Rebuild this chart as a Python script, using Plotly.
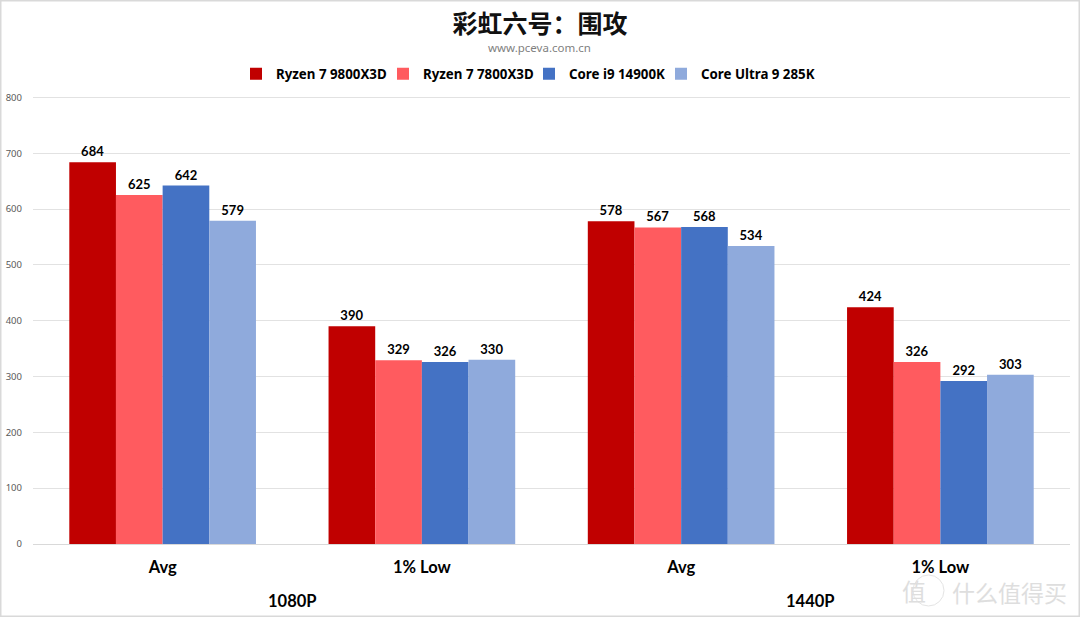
import plotly.graph_objects as go

resolutions = ["1080P", "1440P"]
metrics = ["Avg", "1% Low", "Avg", "1% Low"]
r7_9800x3d = [684, 390, 578, 424]
r7_7800x3d = [625, 329, 567, 326]
i9_14900k = [642, 326, 568, 292]
u9_285k = [579, 330, 534, 303]

series = [
    ("Ryzen 7 9800X3D", r7_9800x3d, "#C00000"),
    ("Ryzen 7 7800X3D", r7_7800x3d, "#FF5B5F"),
    ("Core i9 14900K", i9_14900k, "#4472C4"),
    ("Core Ultra 9 285K", u9_285k, "#8FAADC"),
]

# plot area in page pixels
W, H = 1080, 617
L, R, T, B = 33, 10, 96, 73
PW, PH = W - L - R, H - T - B

def px(x):
    return (x - L) / PW

def py(y):
    return (H - B - y) / PH

positions = list(range(len(metrics)))

fig = go.Figure()

# one legend per entry, the gaps between entries are not even in the original
legend_ids = ["legend", "legend2", "legend3", "legend4"]
legend_text_x = [279, 426, 572, 704]

for (name, values, color), legend_id in zip(series, legend_ids):
    fig.add_trace(
        go.Bar(x=positions,
               y=values,
               name=name,
               legend=legend_id,
               marker=dict(color=color, line=dict(width=0)),
               text=values,
               textposition="outside",
               cliponaxis=False,
               textfont=dict(family="Lato", size=13, color="black", weight="bold")))

fig.update_xaxes(
        range=[-0.5, 3.5],
        tickvals=positions,
        ticktext=metrics,
        ticklabelstandoff=11,
        showgrid=False,
        showline=False,
        zeroline=False,
        ticks="",
        tickfont={"size": 16.5, "color": "black", "family": "Lato", "weight": 700})

fig.update_yaxes(
        range=[0, 802.5],
        dtick=100,
        automargin=False,
        showline=False,
        zeroline=True,
        zerolinecolor="#D9D9D9",
        zerolinewidth=1,
        gridcolor="#E2E2E2",
        gridwidth=1,
        ticks="",
        ticklabelstandoff=10,
        tickfont={"size": 9.5, "color": "#595959", "family": "Noto Sans"})

fig.update_layout(
    width=W,
    height=H,
    margin=dict(l=L, r=R, t=T, b=B),
    barmode="group",
    bargap=0.28,
    bargroupgap=0,
    plot_bgcolor="white",
    paper_bgcolor="white",
    showlegend=True,
    title=dict(text="<b>彩虹六号：围攻</b>",
               x=0.5, xanchor="center", y=0.96, yanchor="middle",
               font=dict(family="Noto Sans CJK SC", size=25, color="#111111")),
)

for legend_id, text_x in zip(legend_ids, legend_text_x):
    fig.update_layout({legend_id: dict(
        orientation="h", x=px(text_x - 43), xanchor="left", y=py(74), yanchor="middle",
        itemwidth=30, entrywidth=125, entrywidthmode="pixels",
        bgcolor="rgba(0,0,0,0)",
        font=dict(family="Noto Sans", size=13.3, color="black", weight="bold"))})

fig.add_annotation(text="www.pceva.com.cn", xref="paper", yref="paper",
                   x=px(539), y=py(48), yanchor="middle", showarrow=False,
                   font=dict(family="Noto Sans", size=11.5, color="#7F7F7F"))

for res, center in zip(resolutions, [0.5, 2.5]):
    fig.add_annotation(text=res, xref="x", yref="paper",
                       x=center, y=py(601), yanchor="middle", showarrow=False,
                       font=dict(family="Lato", size=16.5, color="black", weight=700))

# site watermark, bottom right
fig.add_annotation(text="什么值得买", xref="paper", yref="paper",
                   x=px(1069), y=py(592), xanchor="right", yanchor="middle", showarrow=False,
                   font=dict(family="Noto Sans CJK SC", size=23, color="#DEDEDE"))
fig.add_annotation(text="值", xref="paper", yref="paper",
                   x=px(928), y=py(590), yanchor="middle", showarrow=False,
                   font=dict(family="Noto Sans CJK SC", size=24, color="#DEDEDE"))
fig.add_shape(type="circle", xref="paper", yref="paper",
              x0=px(913), x1=px(944), y0=py(606), y1=py(575),
              line=dict(color="#E4E4E4", width=1))

# outer border of the picture
fig.add_shape(type="rect", xref="paper", yref="paper",
              x0=px(0), x1=px(W), y0=py(H), y1=py(0),
              line=dict(color="#D9D9D9", width=3))

# the page has a default body margin which would shift the figure
fig.write_html("out.html", config={"displayModeBar": False},
               post_script="document.body.style.margin='0';")
